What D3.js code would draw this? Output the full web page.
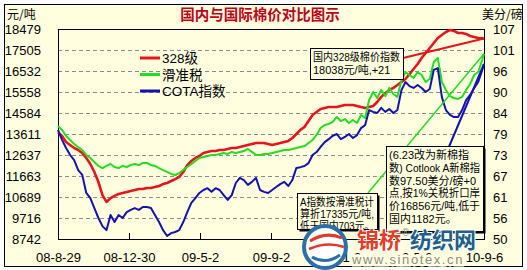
<!DOCTYPE html>
<html>
<head>
<meta charset="utf-8">
<script src="https://cdn.jsdelivr.net/npm/d3@7"></script>
<style>
body { margin: 0; background: #fff; }
svg { display: block; font-family: "Liberation Sans", Arial, "Noto Sans CJK SC", sans-serif; }
</style>
</head>
<body>
<svg width="527" height="270"></svg>
<script>
var dates = [
    "2008-08-29", "2008-09-05", "2008-09-12", "2008-09-19", "2008-09-26", "2008-10-03", "2008-10-10", "2008-10-17", "2008-10-24", "2008-10-31",
    "2008-11-07", "2008-11-14", "2008-11-21", "2008-11-28", "2008-12-05", "2008-12-12", "2008-12-19", "2008-12-26", "2009-01-02", "2009-01-09",
    "2009-01-16", "2009-01-23", "2009-01-30", "2009-02-06", "2009-02-13", "2009-02-20", "2009-02-27", "2009-03-06", "2009-03-13", "2009-03-20",
    "2009-03-27", "2009-04-03", "2009-04-10", "2009-04-17", "2009-04-24", "2009-05-01", "2009-05-08", "2009-05-15", "2009-05-22", "2009-05-29",
    "2009-06-05", "2009-06-12", "2009-06-19", "2009-06-26", "2009-07-03", "2009-07-10", "2009-07-17", "2009-07-24", "2009-07-31", "2009-08-07",
    "2009-08-14", "2009-08-21", "2009-08-28", "2009-09-04", "2009-09-11", "2009-09-18", "2009-09-25", "2009-10-02", "2009-10-09", "2009-10-16",
    "2009-10-23", "2009-10-30", "2009-11-06", "2009-11-13", "2009-11-20", "2009-11-27", "2009-12-04", "2009-12-11", "2009-12-18", "2009-12-25",
    "2010-01-01", "2010-01-08", "2010-01-15", "2010-01-22", "2010-01-29", "2010-02-05", "2010-02-12", "2010-02-19", "2010-02-26", "2010-03-05",
    "2010-03-12", "2010-03-19", "2010-03-26", "2010-04-02", "2010-04-09", "2010-04-16", "2010-04-23", "2010-04-30", "2010-05-07", "2010-05-14",
    "2010-05-21", "2010-05-28", "2010-06-04", "2010-06-11", "2010-06-18", "2010-06-25", "2010-07-02", "2010-07-09", "2010-07-16", "2010-07-23",
    "2010-07-30", "2010-08-06", "2010-08-13", "2010-08-20", "2010-08-27", "2010-09-03", "2010-09-06"
];

// 328级 (元/吨)
var red328 = [
    13700, 13520, 13240, 13100, 12960, 12870, 12730, 12500, 12220, 11850,
    11385, 10780, 10460, 10640, 10740, 10830, 10875, 10920, 10970, 11010,
    11060, 11060, 11110, 11110, 11150, 11200, 11290, 11340, 11430, 11520,
    11620, 11850, 12170, 12360, 12500, 12590, 12730, 12780, 12820, 12820,
    12870, 12870, 12915, 12960, 12960, 13010, 13050, 13100, 13150, 13190,
    13190, 13190, 13150, 13100, 13150, 13190, 13240, 13290, 13425, 13610,
    13800, 13935, 14210, 14490, 14630, 14770, 14820, 14860, 14860, 14860,
    14910, 14955, 14955, 14955, 14910, 14860, 14820, 14860, 14910, 15095,
    15330, 15510, 15650, 15745, 15885, 16020, 16160, 16390, 16625, 16855,
    17135, 17365, 17600, 17830, 18060, 18200, 18340, 18430, 18390, 18295,
    18295, 18250, 18155, 18110, 18060, 18050, 18038
];

// 滑准税 (元/吨)
var greenTax = [
    13980, 13800, 13520, 13330, 13150, 13010, 12870, 12640, 12500, 12310,
    12130, 12030, 12130, 12220, 12080, 12030, 12130, 12080, 12170, 12220,
    12170, 12270, 12270, 12170, 12130, 12030, 11940, 11850, 11760, 11710,
    11800, 11940, 12080, 12220, 12360, 12500, 12545, 12590, 12640, 12640,
    12685, 12730, 12685, 12780, 12730, 12780, 12820, 12915, 12780, 12640,
    12640, 12685, 12685, 12730, 12780, 12820, 12870, 12870, 12915, 12960,
    13010, 13050, 13190, 13335, 13565, 13890, 14030, 14075, 14170, 14400,
    14210, 14305, 14120, 14260, 14120, 14490, 14350, 15190, 15560, 15280,
    15650, 15370, 15745, 15465, 15330, 16115, 16485, 16345, 16210, 16485,
    16345, 16020, 16160, 16950, 17135, 16020, 15650, 15370, 15280, 15235,
    15330, 15650, 15930, 16345, 16485, 17040, 17335
];

// COTA指数 (美分/磅)
var blueCota = [
    79.6, 76.9, 74.7, 72.8, 71.4, 68.7, 67.4, 62.5, 61.1, 58.4,
    55.7, 53.5, 52.4, 56.5, 54.6, 56.5, 55.7, 57.3, 57.9, 58.4,
    57.9, 58.7, 58.7, 58.4, 56.5, 54.6, 52.4, 50.8, 51.6, 51.9,
    52.4, 54.6, 57.3, 59.8, 61.1, 62.5, 63.3, 63.8, 62.8, 63.8,
    63.3, 61.9, 60.6, 61.9, 65.2, 66.6, 66.0, 64.7, 65.5, 66.6,
    63.3, 62.8, 62.5, 63.3, 64.1, 64.9, 65.5, 64.4, 66.0, 69.3,
    69.5, 69.8, 70.6, 72.8, 73.6, 75.0, 76.3, 77.1, 78.0, 78.5,
    77.1, 77.7, 78.5, 77.4, 78.2, 80.1, 80.9, 85.0, 84.5, 84.2,
    85.6, 84.5, 85.3, 84.2, 85.0, 90.4, 92.6, 91.5, 91.0, 91.8,
    91.0, 89.9, 90.7, 95.9, 96.4, 88.5, 85.0, 83.7, 83.1, 83.1,
    85.0, 87.7, 89.1, 91.0, 92.6, 95.9, 97.5
];

var leftTicks = [8742, 9716, 10689, 11663, 12637, 13611, 14584, 15558, 16532, 17505, 18479];
var rightTicks = [50, 55.7, 61.4, 67.1, 72.8, 78.5, 84.2, 89.9, 95.6, 101.3, 107];
var xTicks = ["2008-08-29", "2008-12-30", "2009-05-02", "2009-09-02", "2010-01-03", "2010-05-06", "2010-09-06"];

var seriesNames = ["328级", "滑准税", "COTA指数"];
var seriesColors = ["#e8141c", "#22dd22", "#1212b0"];

var note328 = ["国内328级棉价指数", "18038元/吨,+21"];
var noteTax = ["A指数按滑准税计", "算折17335元/吨,", "低于国内703元。"];
var noteCota = ["(6.23改为新棉指", "数) Cotlook A新棉指", "数97.50美分/磅+0", "点,按1%关税折口岸", "价16856元/吨,低于", "国内1182元。"];

var parse = d3.timeParse("%Y-%m-%d");
var days = dates.map(parse);
var bg = "#ffffe0";
var cjk = "'Noto Sans CJK SC', sans-serif";

var svg = d3.select("svg");
var plot = { left: 58, right: 484, top: 29, bottom: 239 };

var x = d3.scaleTime()
    .domain([parse(xTicks[0]), parse(xTicks[xTicks.length - 1])])
    .range([plot.left, plot.right]);
var yL = d3.scaleLinear()
    .domain([leftTicks[0], leftTicks[leftTicks.length - 1]])
    .range([plot.bottom, plot.top]);
var yR = d3.scaleLinear()
    .domain([rightTicks[0], rightTicks[rightTicks.length - 1]])
    .range([plot.bottom, plot.top]);

svg.append("rect")
    .attr("x", 4.5).attr("y", 4.5)
    .attr("width", 518).attr("height", 262)
    .attr("fill", bg).attr("stroke", "#000");

//网格
svg.append("g")
    .selectAll("line")
    .data(leftTicks.slice(1, -1))
    .enter().append("line")
    .attr("x1", plot.left).attr("x2", plot.right)
    .attr("y1", d => Math.round(yL(d)) + 0.5)
    .attr("y2", d => Math.round(yL(d)) + 0.5)
    .attr("stroke", "#8c8c8c")
    .attr("stroke-dasharray", "4,3");

//坐标轴
var axisL = svg.append("g")
    .attr("transform", `translate(${plot.left},0)`)
    .call(d3.axisLeft(yL).tickValues(leftTicks).tickSize(0).tickPadding(17).tickFormat(d3.format("d")));
var axisR = svg.append("g")
    .attr("transform", `translate(${plot.right},0)`)
    .call(d3.axisRight(yR).tickValues(rightTicks).tickSize(0).tickPadding(9).tickFormat(d3.format(".0f")));
var axisB = svg.append("g")
    .attr("transform", `translate(0,${plot.bottom})`)
    .call(d3.axisBottom(x).tickValues(xTicks.map(parse)).tickSizeInner(-6).tickSizeOuter(0).tickPadding(14)
        .tickFormat(d3.timeFormat("%y-%-m-%-d")));
[axisL, axisR, axisB].forEach(a => {
    a.select(".domain").remove();
    a.selectAll("text")
        .attr("font-size", 13)
        .attr("font-family", "'Liberation Sans', Arial, sans-serif")
        .attr("fill", "#000");
    a.selectAll("line").attr("stroke", "#000");
});

svg.append("rect")
    .attr("x", plot.left + 0.5).attr("y", plot.top + 0.5)
    .attr("width", plot.right - plot.left).attr("height", plot.bottom - plot.top)
    .attr("fill", "none").attr("stroke", "#000");

//曲线
var series = [
    { name: seriesNames[0], color: seriesColors[0], values: red328, y: yL, width: 2.6 },
    { name: seriesNames[1], color: seriesColors[1], values: greenTax, y: yL, width: 2 },
    { name: seriesNames[2], color: seriesColors[2], values: blueCota, y: yR, width: 2 }
];
series.forEach(s => {
    var line = d3.line()
        .x((d, i) => x(days[i]))
        .y(d => s.y(d));
    svg.append("path")
        .datum(s.values)
        .attr("d", line)
        .attr("fill", "none")
        .attr("stroke", s.color)
        .attr("stroke-width", s.width)
        .attr("stroke-linejoin", "round");
});

//图例
var legend = svg.append("g").selectAll("g")
    .data(series)
    .enter().append("g")
    .attr("transform", (d, i) => `translate(140,${58 + i * 16.5})`);
legend.append("line")
    .attr("x1", 0).attr("x2", 20)
    .attr("stroke", d => d.color)
    .attr("stroke-width", 3);
legend.append("text")
    .attr("x", 22).attr("y", 5)
    .attr("font-size", 13.5)
    .attr("font-family", "Arial, 'Liberation Sans', " + cjk)
    .text(d => d.name);

//标注
var lastDay = days[days.length - 1];
function connector(x1, y1, s, width) {
    svg.append("line")
        .attr("x1", x1).attr("y1", y1)
        .attr("x2", x(lastDay)).attr("y2", s.y(s.values[s.values.length - 1]))
        .attr("stroke", s.color)
        .attr("stroke-width", width);
}
connector(403, 58, series[0], 2);
connector(368, 193, series[1], 1.5);
connector(440, 168, series[2], 2);

function note(lines, bx, by, bw, bh, lh, shadow) {
    var g = svg.append("g");
    if (shadow) {
        g.append("rect")
            .attr("x", bx + 2.5).attr("y", by + 2.5)
            .attr("width", bw).attr("height", bh)
            .attr("fill", "#000");
    }
    g.append("rect")
        .attr("x", bx + 0.5).attr("y", by + 0.5)
        .attr("width", bw).attr("height", bh)
        .attr("fill", bg).attr("stroke", "#000");
    var maxW = bw - 6;
    g.selectAll("text")
        .data(lines)
        .enter().append("text")
        .attr("x", bx + 3)
        .attr("y", (d, i) => by + 13 + i * lh)
        .attr("font-size", 11)
        .attr("font-family", "'Liberation Sans', " + cjk)
        .text(d => d)
        .each(function () {
            // 太宽就压缩到框内
            if (this.getComputedTextLength() > maxW) {
                d3.select(this)
                    .attr("textLength", maxW)
                    .attr("lengthAdjust", "spacingAndGlyphs");
            }
        });
}
note(note328, 310, 48, 93, 31, 12.5, false);
note(noteTax, 297, 193, 80, 36, 12, true);
note(noteCota, 386, 146, 97, 85, 12.8, true);

//标题
svg.append("text")
    .attr("x", 260).attr("y", 20)
    .attr("text-anchor", "middle")
    .attr("font-size", 14.5)
    .attr("font-weight", "bold")
    .attr("font-family", cjk)
    .attr("fill", "#c00018")
    .text("国内与国际棉价对比图示");
svg.append("text")
    .attr("x", 7).attr("y", 19)
    .attr("font-size", 12)
    .attr("font-family", cjk)
    .text("元/吨");
svg.append("text")
    .attr("x", 482).attr("y", 19)
    .attr("font-size", 12)
    .attr("font-family", cjk)
    .text("美分/磅");

//水印
var wm = svg.append("g");
wm.append("circle")
    .attr("cx", 325).attr("cy", 247).attr("r", 21)
    .attr("fill", "#fff")
    .attr("stroke", "#2b6fa8")
    .attr("stroke-width", 4);
wm.append("path")
    .attr("d", "M310,241 Q326,231 342,238")
    .attr("fill", "none").attr("stroke", "#e2392a").attr("stroke-width", 3);
wm.append("path")
    .attr("d", "M309,249 Q327,241 344,247")
    .attr("fill", "none").attr("stroke", "#e2392a").attr("stroke-width", 2.5);
wm.append("path")
    .attr("d", "M312,257 Q326,265 340,255")
    .attr("fill", "none").attr("stroke", "#2b6fa8").attr("stroke-width", 3);
wm.append("text")
    .attr("x", 357).attr("y", 248)
    .attr("font-size", 22).attr("font-weight", "bold")
    .attr("font-family", cjk)
    .attr("fill", "#e63c24")
    .attr("stroke", "#fff").attr("stroke-width", 2).attr("paint-order", "stroke")
    .text("锦桥");
wm.append("text")
    .attr("x", 402).attr("y", 236)
    .attr("font-size", 10)
    .attr("fill", "#999")
    .text("®");
wm.append("text")
    .attr("x", 410).attr("y", 248)
    .attr("font-size", 22).attr("font-weight", "bold")
    .attr("font-family", cjk)
    .attr("fill", "#1e5f8c")
    .attr("stroke", "#fff").attr("stroke-width", 2).attr("paint-order", "stroke")
    .text("纺织网");
wm.append("text")
    .attr("x", 352).attr("y", 264)
    .attr("font-size", 13)
    .attr("letter-spacing", 1.6)
    .attr("fill", "#8a8a8a")
    .attr("stroke", bg).attr("stroke-width", 5).attr("paint-order", "stroke")
    .text("www.sinotex.cn");
</script>
</body>
</html>
